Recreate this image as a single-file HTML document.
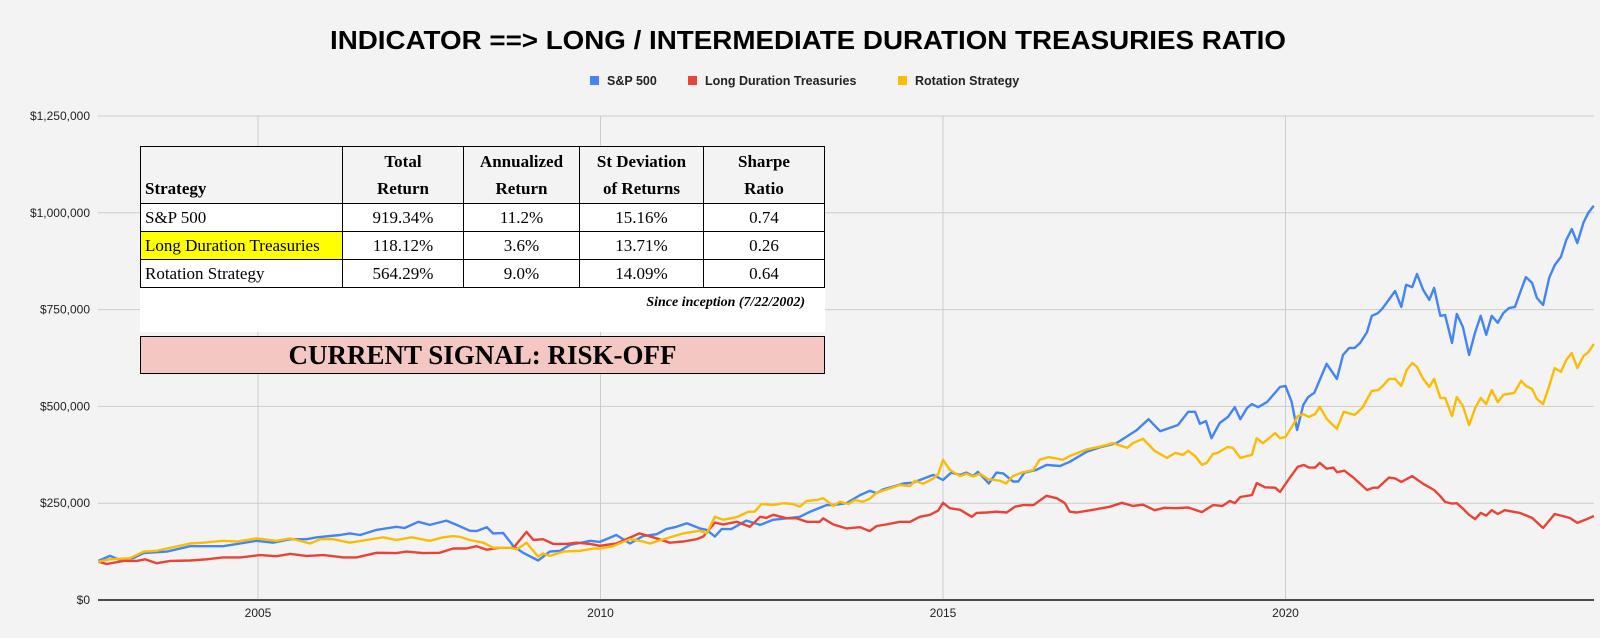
<!DOCTYPE html>
<html><head><meta charset="utf-8"><style>
body{margin:0;background:#f3f3f3;}
#wrap{position:relative;width:1600px;height:638px;overflow:hidden;background:#f3f3f3;font-family:"Liberation Sans",sans-serif;}
#tbl{position:absolute;left:140px;top:146px;width:685px;height:186px;background:#fff;}
table{border-collapse:collapse;font-family:"Liberation Serif",serif;font-size:17px;color:#000;width:685px;}
td{border:1px solid #000;text-align:center;padding:0 4px;height:27px;}
tr.h td{background:#f3f3f3;font-weight:bold;height:55px;vertical-align:bottom;line-height:27px;padding-bottom:1px;}
td.l{text-align:left;}
#cap{position:absolute;right:20px;top:149px;font-family:"Liberation Serif",serif;font-style:italic;font-weight:bold;font-size:14px;}
#sig{position:absolute;left:140px;top:336px;width:683px;height:36px;background:#f4c7c3;border:1px solid #000;font-family:"Liberation Serif",serif;font-weight:bold;font-size:27px;text-align:center;line-height:37px;}
</style></head><body>
<div id="wrap">
<svg id="chart" width="1600" height="638" style="position:absolute;left:0;top:0"></svg>
<div id="tbl">
<table>
<tr class="h"><td class="l" style="width:193px">Strategy</td><td style="width:112px">Total<br>Return</td><td style="width:107px">Annualized<br>Return</td><td style="width:115px">St Deviation<br>of Returns</td><td>Sharpe<br>Ratio</td></tr>
<tr><td class="l">S&amp;P 500</td><td>919.34%</td><td>11.2%</td><td>15.16%</td><td>0.74</td></tr>
<tr><td class="l" style="background:#ffff00">Long Duration Treasuries</td><td>118.12%</td><td>3.6%</td><td>13.71%</td><td>0.26</td></tr>
<tr><td class="l">Rotation Strategy</td><td>564.29%</td><td>9.0%</td><td>14.09%</td><td>0.64</td></tr>
</table>
<div id="cap">Since inception (7/22/2002)</div>
</div>
<div id="sig">CURRENT SIGNAL: RISK-OFF</div>
</div>
<script>
const yTicks=[0,250000,500000,750000,1000000,1250000];
const yTickLabels=["$0","$250,000","$500,000","$750,000","$1,000,000","$1,250,000"];
const xTicks=[2005,2010,2015,2020];
const xTickLabels=["2005","2010","2015","2020"];
const seriesNames=["S&P 500","Long Duration Treasuries","Rotation Strategy"];

const spDates=[2002.67,2002.84,2002.96,2003.18,2003.33,2003.67,2004.01,2004.25,2004.49,2004.74,2004.98,2005.22,2005.47,2005.71,2005.86,2006.2,2006.34,2006.49,2006.73,2007.02,2007.14,2007.34,2007.51,2007.75,2007.9,2008.09,2008.19,2008.34,2008.43,2008.58,2008.73,2008.87,2009.09,2009.26,2009.41,2009.55,2009.85,2009.99,2010.23,2010.43,2010.62,2010.82,2010.96,2011.11,2011.26,2011.45,2011.55,2011.67,2011.77,2011.91,2012.13,2012.33,2012.52,2012.72,2012.91,2013.06,2013.3,2013.4,2013.59,2013.79,2013.93,2014.03,2014.13,2014.27,2014.42,2014.56,2014.69,2014.86,2015.0,2015.12,2015.25,2015.34,2015.44,2015.51,2015.67,2015.78,2015.88,2016.02,2016.1,2016.19,2016.36,2016.51,2016.71,2016.85,2017.1,2017.29,2017.53,2017.83,2018.0,2018.17,2018.43,2018.58,2018.68,2018.75,2018.84,2018.92,2019.04,2019.16,2019.26,2019.34,2019.44,2019.51,2019.6,2019.73,2019.92,2020.0,2020.09,2020.17,2020.26,2020.33,2020.42,2020.6,2020.75,2020.84,2020.93,2021.01,2021.09,2021.19,2021.26,2021.35,2021.42,2021.6,2021.69,2021.76,2021.85,2021.92,2022.01,2022.1,2022.17,2022.26,2022.33,2022.43,2022.5,2022.59,2022.68,2022.77,2022.85,2022.93,2023.01,2023.1,2023.18,2023.26,2023.35,2023.44,2023.51,2023.6,2023.67,2023.76,2023.85,2023.93,2024.02,2024.1,2024.18,2024.26,2024.35,2024.42,2024.5];
const spValues=[101,114,105,108,121,125,139,139,139,146,153,148,157,157,162,168,172,168,181,189,186,202,194,205,194,179,178,188,172,173,139,122,102,125,127,142,153,150,168,146,165,170,183,189,198,185,181,164,183,183,205,194,207,211,215,228,245,245,250,271,282,276,286,293,301,303,312,323,310,329,323,329,320,331,301,329,327,306,306,329,336,349,346,357,383,394,405,439,467,436,452,486,486,455,462,418,457,473,498,467,496,506,498,511,550,553,511,439,504,524,535,610,571,633,651,651,664,692,734,741,754,798,757,814,808,842,801,775,806,734,736,664,739,705,633,692,734,685,734,716,741,754,757,801,834,819,780,762,832,865,886,930,958,922,975,1000,1018];

const ltDates=[2002.67,2002.79,2003.04,2003.23,2003.35,2003.52,2003.72,2004.01,2004.25,2004.49,2004.74,2005.03,2005.27,2005.47,2005.71,2005.96,2006.25,2006.44,2006.73,2007.02,2007.17,2007.41,2007.65,2007.85,2008.04,2008.19,2008.34,2008.53,2008.73,2008.92,2009.02,2009.16,2009.31,2009.5,2009.65,2009.85,2009.99,2010.23,2010.57,2010.77,2011.01,2011.21,2011.4,2011.5,2011.67,2011.79,2011.99,2012.18,2012.33,2012.42,2012.52,2012.72,2012.86,2013.01,2013.2,2013.25,2013.4,2013.59,2013.79,2013.93,2014.03,2014.17,2014.37,2014.52,2014.66,2014.81,2014.93,2015.0,2015.1,2015.25,2015.42,2015.49,2015.64,2015.78,2015.93,2016.05,2016.17,2016.32,2016.51,2016.66,2016.78,2016.85,2016.95,2017.19,2017.44,2017.61,2017.77,2017.92,2018.09,2018.23,2018.39,2018.58,2018.78,2018.94,2019.08,2019.19,2019.26,2019.34,2019.51,2019.58,2019.7,2019.85,2019.92,2020.06,2020.18,2020.27,2020.34,2020.43,2020.5,2020.6,2020.7,2020.75,2020.86,2020.98,2021.19,2021.28,2021.35,2021.51,2021.6,2021.69,2021.85,2022.01,2022.17,2022.26,2022.33,2022.43,2022.5,2022.59,2022.68,2022.77,2022.85,2022.93,2023.01,2023.1,2023.2,2023.42,2023.6,2023.76,2023.93,2024.15,2024.26,2024.4,2024.5];
const ltValues=[99,93,101,101,105,95,101,102,105,110,110,116,113,119,114,116,110,110,122,121,125,121,122,133,133,139,130,135,135,176,155,157,145,145,148,145,140,146,172,162,148,151,157,164,200,195,202,189,215,212,220,211,211,202,202,211,195,185,188,178,191,195,202,202,215,220,231,251,237,233,215,225,226,228,226,241,245,245,269,263,250,228,226,233,241,251,243,246,232,238,237,239,227,245,243,256,250,266,271,302,291,290,279,315,344,349,342,342,354,339,342,330,334,318,284,290,290,316,314,305,320,300,284,268,253,249,250,236,220,209,225,218,232,222,232,225,212,186,222,212,199,209,217];

const rsDates=[2002.67,2002.84,2003.13,2003.33,2003.52,2003.67,2004.01,2004.2,2004.49,2004.69,2004.98,2005.27,2005.47,2005.76,2005.91,2006.1,2006.34,2006.58,2006.83,2007.02,2007.24,2007.51,2007.7,2007.85,2007.95,2008.09,2008.29,2008.43,2008.68,2008.78,2008.92,2009.09,2009.16,2009.26,2009.46,2009.7,2009.9,2009.99,2010.18,2010.43,2010.62,2010.72,2010.96,2011.21,2011.45,2011.55,2011.67,2011.79,2011.99,2012.16,2012.25,2012.35,2012.52,2012.67,2012.81,2012.91,2013.01,2013.15,2013.25,2013.4,2013.49,2013.62,2013.71,2013.83,2013.93,2014.03,2014.22,2014.37,2014.52,2014.59,2014.71,2014.86,2014.93,2015.0,2015.1,2015.25,2015.34,2015.44,2015.54,2015.66,2015.83,2015.92,2016.02,2016.15,2016.32,2016.41,2016.54,2016.75,2016.85,2017.1,2017.29,2017.48,2017.69,2017.77,2017.92,2018.09,2018.27,2018.39,2018.5,2018.58,2018.68,2018.78,2018.85,2018.94,2019.01,2019.15,2019.23,2019.34,2019.51,2019.58,2019.67,2019.85,2019.92,2020.0,2020.11,2020.18,2020.26,2020.34,2020.43,2020.5,2020.6,2020.75,2020.85,2021.01,2021.12,2021.26,2021.35,2021.42,2021.51,2021.6,2021.69,2021.77,2021.85,2021.92,2022.01,2022.1,2022.17,2022.26,2022.33,2022.43,2022.5,2022.59,2022.68,2022.77,2022.85,2022.93,2023.01,2023.1,2023.18,2023.34,2023.44,2023.51,2023.6,2023.67,2023.76,2023.85,2023.93,2024.02,2024.1,2024.18,2024.26,2024.35,2024.42,2024.5];
const rsValues=[99,105,108,125,127,133,146,148,153,151,159,153,159,146,157,157,148,155,162,155,162,153,162,165,163,155,148,135,135,131,148,112,120,114,125,127,133,133,139,157,151,146,159,172,179,172,215,207,214,228,228,248,245,250,248,241,256,258,263,243,254,248,258,254,261,277,288,297,294,308,300,314,325,362,336,320,326,319,326,312,308,301,320,329,336,362,369,362,372,389,396,405,393,405,416,385,367,380,375,385,372,349,354,377,380,395,393,367,375,418,405,431,418,421,452,475,480,473,480,499,468,442,486,478,496,540,542,553,571,571,553,594,612,602,571,550,571,522,522,475,524,501,452,496,522,506,542,511,530,535,566,553,545,519,506,553,599,589,620,638,599,630,640,661];

const NS='http://www.w3.org/2000/svg';
const svg=document.getElementById('chart');
const X0=98,X1=1594,Y0=600,YT=116;
function xs(yr){return 258+(yr-2005)*68.5;}
function ys(v){return Y0-v/250000*(Y0-YT)/5;}
function mk(tag,attrs,parent){const e=document.createElementNS(NS,tag);for(const k in attrs)e.setAttribute(k,attrs[k]);(parent||svg).appendChild(e);return e;}

const title=mk('text',{x:808,y:49,'text-anchor':'middle','font-family':'Liberation Sans, sans-serif','font-size':26,'font-weight':'bold',fill:'#000',textLength:956,lengthAdjust:'spacingAndGlyphs'});
title.textContent='INDICATOR ==> LONG / INTERMEDIATE DURATION TREASURIES RATIO';



const legColors=['#4285f4','#ea4335','#fbbc04'];
const legX=[590,688,898];
for(let i=0;i<3;i++){
  const g=mk('g',{});
  
  
  mk('rect',{x:legX[i],y:76,width:9,height:9,fill:legColors[i]},g);
  const t=mk('text',{x:legX[i]+17,y:85,'font-family':'Liberation Sans, sans-serif','font-size':12.5,'font-weight':'bold',fill:'#222'},g);
  t.textContent=seriesNames[i];
}

for(let i=0;i<yTicks.length;i++){
  const y=ys(yTicks[i]);
  const l=mk('line',{x1:X0,x2:X1,y1:y,y2:y,stroke:i===0?'#333':'#cccccc','stroke-width':i===0?1.5:1});
  
  
  const t=mk('text',{x:90,y:y+4,'text-anchor':'end','font-family':'Liberation Sans, sans-serif','font-size':12,fill:'#222'});
  t.textContent=yTickLabels[i];
  
  
}
for(let i=0;i<xTicks.length;i++){
  const x=xs(xTicks[i]);
  const l=mk('line',{x1:x,x2:x,y1:YT,y2:Y0,stroke:'#cccccc','stroke-width':1});
  
  
  const t=mk('text',{x:x,y:617,'text-anchor':'middle','font-family':'Liberation Sans, sans-serif','font-size':12,fill:'#222'});
  t.textContent=xTickLabels[i];
  
  
}
mk('line',{x1:X0,x2:X1,y1:Y0,y2:Y0,stroke:'#333','stroke-width':1.5});

function drawSeries(dates,vals,color,name){
  let d='';
  for(let i=0;i<dates.length;i++){d+=(i?'L':'M')+xs(dates[i]).toFixed(1)+','+ys(vals[i]*1000).toFixed(1);}
  const p=mk('path',{d:d,fill:'none',stroke:color,'stroke-width':2.4,'stroke-linejoin':'round'});
  
  
}
drawSeries(spDates,spValues,'#4285f4','sp500-line');
drawSeries(ltDates,ltValues,'#ea4335','long-treasuries-line');
drawSeries(rsDates,rsValues,'#fbbc04','rotation-strategy-line');
</script>
</body></html>
